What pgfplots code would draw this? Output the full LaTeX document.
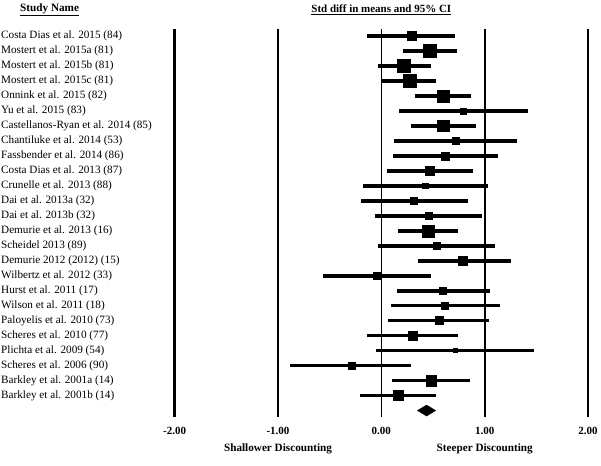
\documentclass[border=0pt]{standalone}
\usepackage{pgfplots}
\usepackage{pgfplotstable}
\pgfplotsset{compat=1.18}
\usepackage{fontspec}
\setmainfont{Liberation Serif}
\pgfplotstableread{
y pt lo hi h
-1 0.29 -0.135 0.712 4.5
-2 0.47 0.21 0.73 6.5
-3 0.22 -0.035 0.48 6.5
-4 0.27 0.0 0.525 6.5
-5 0.60 0.33 0.87 6.2
-6 0.79 0.17 1.42 2.8
-7 0.60 0.29 0.915 5.7
-8 0.715 0.12 1.31 3.5
-9 0.62 0.11 1.13 4.0
-10 0.47 0.055 0.886 4.7
-11 0.425 -0.18 1.03 2.8
-12 0.31 -0.20 0.835 3.5
-13 0.46 -0.06 0.976 3.5
-14 0.455 0.16 0.745 6.0
-15 0.535 -0.03 1.10 3.5
-16 0.79 0.35 1.25 4.5
-17 -0.04 -0.563 0.483 3.7
-18 0.596 0.15 1.05 3.7
-19 0.615 0.094 1.147 3.7
-20 0.557 0.068 1.04 4.0
-21 0.30 -0.135 0.745 4.5
-22 0.71 -0.05 1.475 2.0
-23 -0.29 -0.88 0.29 3.6
-24 0.48 0.103 0.857 5.2
-25 0.165 -0.206 0.53 5.0
}\data
\begin{document}
\begin{tikzpicture}
\begin{axis}[
  scale only axis,
  width=601pt, height=464pt,
  xmin=-3.69, xmax=2.12,
  ymin=-29.7, ymax=1.25,
  axis line style={draw=none},
  tick style={draw=none},
  xtick=\empty,
  ytick={-1,-2,...,-25},
  yticklabels={Costa Dias et al. 2015 (84),Mostert et al. 2015a (81),Mostert et al. 2015b (81),Mostert et al. 2015c (81),Onnink et al. 2015 (82),Yu et al. 2015 (83),Castellanos-Ryan et al. 2014 (85),Chantiluke et al. 2014 (53),Fassbender et al. 2014 (86),Costa Dias et al. 2013 (87),Crunelle et al. 2013 (88),Dai et al. 2013a (32),Dai et al. 2013b (32),Demurie et al. 2013 (16),Scheidel 2013 (89),Demurie 2012 (2012) (15),Wilbertz et al. 2012 (33),Hurst et al. 2011 (17),Wilson et al. 2011 (18),Paloyelis et al. 2010 (73),Scheres et al. 2010 (77),Plichta et al. 2009 (54),Scheres et al. 2006 (90),Barkley et al. 2001a (14),Barkley et al. 2001b (14)},
  yticklabel style={anchor=west, font=\fontsize{11.2}{12}\selectfont, inner sep=1pt},
  clip=false,
]
% vertical reference lines
\addplot[black, line width=2.8pt] coordinates {(-2,-0.553) (-2,-26.42)};
\addplot[black, line width=2.8pt] coordinates {(-1,-0.553) (-1,-26.42)};
\addplot[black, line width=1.6pt] coordinates {(0,-0.553) (0,-26.42)};
\addplot[black, line width=1.6pt] coordinates {(1,-0.553) (1,-26.42)};
\addplot[black, line width=2.8pt] coordinates {(2,-0.553) (2,-26.42)};
% confidence intervals
\addplot[only marks, mark=none,
  error bars/.cd, x dir=both, x explicit, error mark=none,
  error bar style={draw=black, line width=3.6pt}]
  table[x=pt, y=y, x error minus expr=\thisrow{pt}-\thisrow{lo}, x error plus expr=\thisrow{hi}-\thisrow{pt}] {\data};
% point estimates
\addplot[scatter, only marks, mark=square*, black,
  scatter/use mapped color={draw=black, fill=black},
  visualization depends on={\thisrow{h} \as \ms},
  scatter/@pre marker code/.append style={/tikz/mark size=\ms pt}]
  table[x=pt, y=y] {\data};
% summary diamond
\addplot[fill=black, draw=black] coordinates {(0.35,-26) (0.4375,-25.633) (0.525,-26) (0.4375,-26.367)} -- cycle;
% texts
\node[font=\fontsize{11.2}{12}\selectfont\bfseries] at (axis cs:-3.21,0.78) {\underline{Study Name}};
\node[font=\fontsize{11}{12}\selectfont\bfseries] at (axis cs:0,0.78) {\underline{Std diff in means and 95\% CI}};
\node[font=\fontsize{11}{12}\selectfont\bfseries] at (axis cs:-2,-27.35) {-2.00};
\node[font=\fontsize{11}{12}\selectfont\bfseries] at (axis cs:-1,-27.35) {-1.00};
\node[font=\fontsize{11}{12}\selectfont\bfseries] at (axis cs:0,-27.35) {0.00};
\node[font=\fontsize{11}{12}\selectfont\bfseries] at (axis cs:1,-27.35) {1.00};
\node[font=\fontsize{11}{12}\selectfont\bfseries] at (axis cs:2,-27.35) {2.00};
\node[font=\fontsize{11.2}{12}\selectfont\bfseries] at (axis cs:-1,-28.55) {Shallower Discounting};
\node[font=\fontsize{11.2}{12}\selectfont\bfseries] at (axis cs:1,-28.55) {Steeper Discounting};
\end{axis}
\end{tikzpicture}
\end{document}
